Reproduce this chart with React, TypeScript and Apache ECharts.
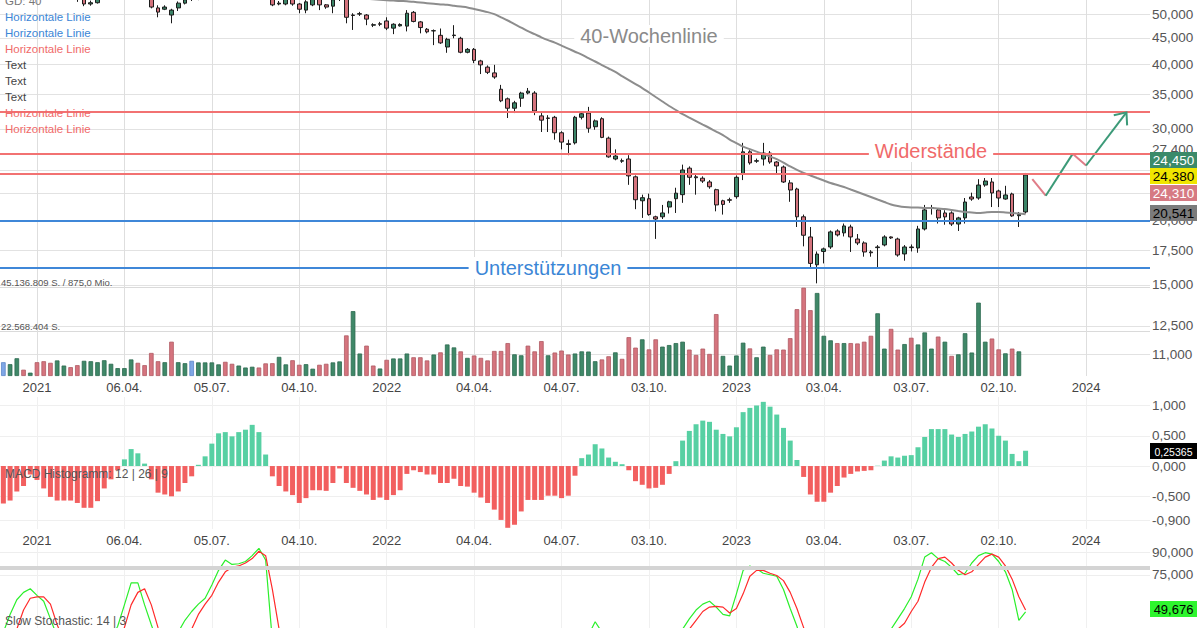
import React, { useEffect, useRef } from 'react';
import * as echarts from 'echarts';

const FONT = '"Liberation Sans", Arial, Helvetica, sans-serif';

// ---------- time axis ----------
const firstWeek = '2020-11-30';
const weekCount = 171;
const tickIndex = [5, 18, 31, 44, 57, 70, 83, 96, 109, 122, 135, 148, 161];
const tickLabels = ['2021', '06.04.', '05.07.', '04.10.', '2022', '04.04.', '04.07.', '03.10.', '2023', '03.04.', '03.07.', '02.10.', '2024'];

// ---------- weekly candles (EUR) ----------
const openPrice = [
  57.0, 56.4, 57.3, 58.2, 57.4, 58.0, 56.8, 55.9, 55.2, 55.9,
  56.3, 55.0, 53.5, 52.3, 52.6, 53.7, 55.1, 56.2, 57.0, 57.8,
  58.6, 57.2, 55.4, 51.4, 51.1, 49.8, 51.4, 52.5, 53.4, 53.8,
  54.2, 55.5, 56.4, 57.3, 56.9, 56.5, 58.6, 59.1, 59.5, 56.4,
  54.4, 52.3, 52.3, 54.0, 52.3, 50.9, 52.1, 54.0, 52.1, 51.8,
  54.0, 54.2, 49.8, 50.0, 49.8, 47.6, 47.9, 48.5, 46.98, 47.45,
  47.4, 50.4, 48.3, 46.75, 46.4, 45.5, 43.2, 45.45, 44.9, 42.2,
  42.75, 40.6, 39.5, 38.5, 35.8, 34.3, 32.9, 34.4, 35.2, 35.2,
  31.8, 31.5, 31.6, 29.5, 28.1, 28.2, 31.6, 32.2, 30.3, 31.4,
  28.8, 26.25, 26.0, 26.25, 24.25, 21.8, 22.0, 20.3, 20.3, 21.2,
  22.0, 22.4, 25.2, 24.25, 24.1, 23.7, 22.9, 21.8, 21.9, 22.2,
  24.6, 27.1, 26.0, 26.25, 26.95, 25.9, 25.33, 23.6, 22.97, 20.3,
  18.56, 16.4, 17.4, 17.75, 19.06, 18.9, 19.4, 18.39, 18.07, 17.36,
  17.7, 17.91, 18.56, 18.39, 17.21, 17.75, 17.67, 19.23, 21.1, 20.93,
  20.65, 20.65, 19.66, 20.2, 22.17, 22.07, 23.38, 23.7, 22.77, 21.97,
  22.47, 20.4, 20.74,
];
const closePrice = [
  56.4, 57.3, 58.2, 57.4, 58.0, 56.8, 55.9, 55.2, 55.9, 56.3,
  55.0, 53.6, 52.3, 52.6, 53.7, 55.1, 56.2, 57.0, 57.8, 58.6,
  57.2, 55.4, 51.6, 50.45, 51.6, 50.9, 52.5, 53.3, 53.8, 54.2,
  55.5, 56.4, 57.3, 56.9, 56.5, 58.6, 59.1, 59.5, 56.4, 54.4,
  52.1, 52.5, 53.5, 52.3, 51.1, 52.8, 53.4, 52.1, 51.6, 53.3,
  54.4, 49.3, 49.7, 50.1, 48.9, 47.7, 47.8, 46.98, 47.8, 47.75,
  50.2, 48.4, 47.1, 46.2, 46.45, 44.0, 44.7, 45.55, 42.2, 42.75,
  40.7, 39.9, 38.6, 37.8, 34.0, 32.9, 33.7, 35.2, 35.5, 32.5,
  31.2, 31.45, 29.5, 28.3, 28.0, 31.6, 32.1, 30.1, 31.1, 28.9,
  26.5, 26.6, 26.05, 24.35, 21.9, 22.1, 20.5, 20.1, 20.65, 21.7,
  22.55, 25.0, 24.2, 24.15, 23.8, 23.2, 21.4, 21.45, 21.85, 24.2,
  27.1, 25.8, 26.05, 26.95, 25.9, 25.45, 23.7, 22.87, 20.3, 18.7,
  16.5, 17.2, 17.6, 18.98, 18.73, 19.49, 18.56, 18.07, 17.36, 17.3,
  17.75, 18.56, 18.48, 17.13, 17.75, 17.7, 19.23, 20.93, 21.15, 20.2,
  20.29, 19.66, 20.2, 21.68, 21.97, 23.38, 23.8, 22.57, 22.07, 22.37,
  20.38, 20.5, 24.45,
];
const lowPrice = [
  55.8, 56.0, 57.0, 56.9, 57.0, 56.2, 55.3, 54.6, 54.8, 55.4,
  54.2, 52.8, 51.8, 51.9, 52.4, 53.4, 54.8, 55.8, 56.6, 57.3,
  56.8, 54.9, 51.3, 49.3, 50.9, 48.0, 50.7, 52.2, 53.0, 53.2,
  53.8, 55.1, 56.0, 56.3, 56.0, 56.2, 58.0, 58.6, 55.6, 53.6,
  51.8, 52.0, 52.0, 51.9, 50.2, 50.2, 51.8, 50.9, 51.2, 50.2,
  53.0, 48.0, 46.6, 49.6, 47.6, 47.2, 47.4, 46.57, 45.74, 47.3,
  46.3, 48.2, 45.9, 45.9, 43.56, 43.8, 42.1, 44.9, 42.0, 42.0,
  40.2, 38.3, 38.3, 37.5, 33.8, 31.5, 32.2, 33.1, 35.0, 31.9,
  29.6, 29.6, 28.6, 27.4, 26.7, 28.0, 31.3, 29.5, 29.9, 28.8,
  26.4, 26.1, 25.8, 23.4, 21.0, 20.2, 20.4, 18.4, 20.1, 20.6,
  20.65, 21.6, 23.4, 22.4, 23.6, 23.0, 20.8, 20.5, 21.6, 22.0,
  23.9, 25.6, 25.8, 25.5, 25.7, 24.45, 23.6, 21.7, 19.4, 17.8,
  16.2, 15.1, 16.5, 17.6, 18.6, 18.6, 17.36, 17.9, 17.0, 17.0,
  16.1, 17.8, 18.4, 17.0, 16.7, 17.4, 17.3, 19.1, 20.5, 19.7,
  19.6, 19.49, 19.06, 19.7, 21.8, 21.9, 23.2, 21.2, 21.2, 21.9,
  20.3, 19.4, 20.6,
];
const highPrice = [
  58.0, 57.8, 58.8, 58.6, 58.7, 58.3, 57.2, 56.4, 56.3, 56.9,
  56.6, 55.4, 54.2, 53.1, 54.0, 55.5, 56.6, 57.5, 58.4, 59.2,
  58.9, 57.5, 55.7, 52.0, 52.0, 51.2, 52.9, 53.9, 54.3, 54.8,
  55.9, 56.9, 57.8, 57.9, 57.5, 59.1, 59.8, 60.2, 59.8, 56.7,
  54.8, 53.0, 53.9, 54.3, 52.5, 53.2, 53.8, 54.3, 52.3, 53.7,
  55.4, 54.6, 50.2, 50.5, 50.0, 48.0, 48.3, 49.3, 48.0, 48.0,
  50.9, 50.7, 48.5, 47.0, 46.7, 46.9, 45.0, 47.6, 45.2, 43.0,
  43.0, 40.8, 39.8, 39.9, 36.5, 34.5, 34.0, 35.4, 36.0, 35.5,
  32.2, 31.9, 31.8, 29.7, 28.6, 31.8, 32.4, 33.1, 31.3, 31.6,
  29.0, 27.4, 26.3, 26.7, 24.4, 22.4, 22.5, 20.4, 21.4, 21.8,
  23.1, 25.6, 25.4, 24.5, 24.3, 23.9, 23.0, 21.9, 22.1, 24.4,
  28.2, 27.3, 26.3, 28.2, 27.2, 26.0, 25.5, 23.9, 23.1, 20.5,
  19.4, 17.4, 17.7, 19.1, 19.2, 19.7, 19.6, 18.8, 18.2, 17.5,
  17.9, 18.7, 18.6, 18.5, 17.9, 17.95, 19.5, 21.4, 21.4, 21.1,
  20.9, 20.8, 20.3, 22.07, 22.6, 24.0, 24.12, 24.12, 22.9, 23.3,
  22.6, 20.74, 24.67,
];

// 40-week moving average (GD 40)
const ma40 = [
  55.2, 55.3, 55.4, 55.5, 55.6, 55.7, 55.8, 55.8, 55.9, 55.9,
  56.0, 56.0, 56.0, 56.0, 55.9, 55.9, 55.9, 55.9, 55.9, 56.0,
  56.0, 56.0, 55.9, 55.8, 55.7, 55.6, 55.5, 55.4, 55.3, 55.2,
  55.2, 55.1, 55.1, 55.0, 55.0, 55.0, 55.0, 55.0, 54.95, 54.9,
  54.85, 54.8, 54.7, 54.6, 54.5, 54.4, 54.3, 54.2, 54.1, 54.0,
  53.9, 53.8, 53.7, 53.6, 53.5, 53.4, 53.3, 53.2, 53.1, 53.0,
  52.95, 52.8, 52.65, 52.5, 52.35, 52.2, 52.1, 51.9, 51.7, 51.5,
  51.15, 50.8, 50.45, 50.0, 49.3, 48.6, 47.8, 47.1, 46.36, 45.74,
  45.1, 44.54, 44.05, 43.47, 42.9, 42.3, 41.77, 41.1, 40.5, 39.86,
  39.26, 38.66, 37.96, 37.29, 36.63, 35.99, 35.28, 34.58, 33.9, 33.23,
  32.64, 32.06, 31.56, 31.08, 30.6, 30.13, 29.66, 29.2, 28.62, 28.18,
  27.73, 27.43, 27.13, 26.83, 26.53, 26.24, 25.84, 25.39, 25.0, 24.67,
  24.39, 24.12, 23.86, 23.59, 23.38, 23.18, 22.92, 22.67, 22.42, 22.17,
  21.92, 21.68, 21.44, 21.3, 21.2, 21.16, 21.16, 21.11, 21.11, 21.06,
  21.02, 20.93, 20.83, 20.74, 20.7, 20.65, 20.7, 20.74, 20.74, 20.7,
  20.65, 20.6, 20.541,
];

// weekly volume in million shares (no figure yet for the last week), and its colour (g up, r down, b marked)
const volumeMio = [
  7.0, 6.0, 9.0, 3.2, 1.7, 7.0, 7.5, 6.7, 7.9, 5.3,
  4.5, 5.5, 7.7, 7.5, 7.0, 8.0, 6.2, 4.0, 4.0, 8.4,
  6.7, 5.5, 11.7, 7.5, 7.0, 17.4, 7.0, 6.5, 7.7, 6.9,
  6.9, 6.9, 5.9, 7.2, 6.2, 5.3, 4.3, 4.7, 4.3, 6.4,
  6.5, 9.7, 5.9, 8.0, 5.7, 6.0, 3.7, 5.7, 6.2, 6.9,
  7.4, 20.6, 32.9, 11.4, 15.4, 5.3, 3.8, 8.2, 8.9, 8.9,
  11.4, 9.5, 9.5, 7.9, 10.9, 12.0, 16.0, 14.5, 12.5, 9.2,
  10.4, 9.2, 7.9, 12.7, 12.7, 16.7, 11.0, 10.5, 15.4, 12.5,
  17.7, 10.5, 11.9, 12.9, 10.9, 11.4, 12.5, 12.4, 7.5, 8.4,
  10.0, 12.0, 8.7, 19.7, 14.4, 18.6, 13.5, 18.6, 14.9, 15.7,
  16.7, 17.4, 13.4, 10.7, 13.9, 11.2, 31.4, 10.2, 5.3, 10.4,
  16.9, 14.0, 9.5, 14.9, 10.7, 13.5, 13.4, 19.2, 33.9, 44.8,
  33.4, 42.1, 20.4, 18.1, 16.7, 16.7, 16.7, 16.5, 17.4, 20.4,
  31.8, 13.9, 23.9, 13.4, 16.2, 19.4, 16.0, 22.1, 13.9, 20.0,
  17.4, 10.2, 11.0, 21.7, 11.9, 37.2, 17.4, 19.0, 13.5, 11.5,
  13.9, 12.5, null,
];
const volumeTrend = [
  'b', 'g', 'g', 'r', 'g', 'r', 'r', 'r', 'g', 'g',
  'r', 'r', 'g', 'g', 'g', 'g', 'g', 'g', 'g', 'g',
  'r', 'r', 'r', 'r', 'g', 'r', 'g', 'g', 'b', 'g',
  'g', 'g', 'g', 'r', 'r', 'g', 'g', 'g', 'r', 'r',
  'r', 'g', 'g', 'r', 'r', 'g', 'g', 'r', 'r', 'g',
  'g', 'r', 'g', 'g', 'r', 'r', 'g', 'r', 'g', 'g',
  'g', 'r', 'r', 'r', 'g', 'r', 'g', 'g', 'r', 'g',
  'r', 'r', 'r', 'r', 'r', 'r', 'g', 'g', 'r', 'r',
  'r', 'g', 'r', 'r', 'r', 'g', 'g', 'g', 'g', 'r',
  'r', 'g', 'r', 'r', 'r', 'g', 'r', 'r', 'g', 'g',
  'g', 'g', 'r', 'r', 'r', 'r', 'r', 'g', 'g', 'g',
  'g', 'r', 'g', 'g', 'r', 'r', 'r', 'r', 'r', 'r',
  'r', 'g', 'g', 'g', 'r', 'g', 'r', 'r', 'r', 'r',
  'g', 'g', 'r', 'r', 'g', 'r', 'g', 'g', 'g', 'r',
  'g', 'r', 'g', 'g', 'g', 'g', 'g', 'r', 'r', 'g',
  'r', 'g', 'g',
];

// MACD histogram 12 | 26 | 9
const macdHist = [
  -0.62, -0.57, -0.42, -0.33, -0.14, -0.23, -0.37, -0.51, -0.57, -0.57,
  -0.57, -0.61, -0.69, -0.69, -0.58, -0.37, -0.22, -0.07, 0.11, 0.28,
  0.21, 0.04, -0.22, -0.44, -0.47, -0.5, -0.42, -0.28, -0.17, 0.02,
  0.16, 0.37, 0.54, 0.56, 0.49, 0.56, 0.6, 0.68, 0.56, 0.19,
  -0.17, -0.33, -0.42, -0.48, -0.61, -0.53, -0.4, -0.4, -0.41, -0.28,
  -0.04, -0.28, -0.36, -0.41, -0.47, -0.56, -0.52, -0.56, -0.48, -0.4,
  -0.13, -0.07, -0.1, -0.14, -0.14, -0.28, -0.28, -0.21, -0.33, -0.34,
  -0.44, -0.52, -0.61, -0.72, -0.89, -1.02, -0.97, -0.75, -0.56, -0.56,
  -0.56, -0.49, -0.49, -0.53, -0.49, -0.16, 0.13, 0.19, 0.36, 0.29,
  0.14, 0.07, 0.03, -0.07, -0.25, -0.31, -0.37, -0.36, -0.31, -0.13,
  0.08, 0.42, 0.58, 0.69, 0.75, 0.73, 0.6, 0.53, 0.49, 0.64,
  0.89, 0.96, 1.0, 1.06, 0.98, 0.85, 0.63, 0.42, 0.1, -0.18,
  -0.47, -0.59, -0.59, -0.44, -0.33, -0.19, -0.13, -0.09, -0.08, -0.07,
  0.005, 0.09, 0.16, 0.14, 0.17, 0.18, 0.31, 0.48, 0.61, 0.61,
  0.61, 0.52, 0.48, 0.53, 0.57, 0.65, 0.69, 0.62, 0.5, 0.42,
  0.2, 0.08, 0.25365,
];

// Slow Stochastic 14 | 3
const stochK = [
  36, 48, 58, 63, 65.5, 61, 57, 45, 33, 22,
  15, 11, 8, 12, 18, 24, 31, 40, 54.5, 69.5,
  69.5, 54.5, 41, 28, 22, 18, 36, 44, 50, 55,
  59, 68, 78, 85, 82, 82.5, 84, 88, 93, 85,
  30, 18, 16, 12, 9, 14, 20, 17, 13, 18,
  24, 15, 8, 6, 5, 4, 5, 6, 8, 10,
  16, 15, 12, 9, 7, 5, 6, 8, 6, 5,
  4, 3, 3, 4, 3, 2, 5, 12, 16, 12,
  8, 7, 6, 5, 5, 20, 30, 34, 43, 36,
  24, 15, 10, 6, 3, 4, 3, 4, 8, 14,
  24, 38, 45, 51, 55, 57, 53, 48, 47, 62,
  78, 81, 79, 76, 75, 74, 65, 52, 40, 25,
  10, 8, 9, 14, 18, 22, 18, 15, 12, 14,
  16, 22, 38, 45, 52, 60, 72, 87, 90, 86,
  84, 80, 75, 76, 83, 88, 90, 89, 84, 77,
  65, 44, 49.676,
];
const stochD = [
  28, 33, 38, 51, 59, 60, 60, 55, 41, 30,
  22, 16, 11, 10, 13, 18, 24, 32, 39, 54.5,
  63, 65.5, 54.5, 39, 28, 22, 25, 33, 38, 48,
  55, 61, 70, 77, 80, 81, 83, 86, 91, 88,
  65, 38, 21, 15, 12, 12, 14, 17, 17, 16,
  18, 19, 16, 10, 6, 5, 5, 5, 6, 8,
  11, 14, 14, 12, 9, 7, 6, 6, 7, 6,
  5, 4, 3, 3, 3, 3, 3, 6, 11, 13,
  12, 9, 7, 6, 5, 10, 18, 28, 36, 38,
  34, 25, 16, 10, 6, 4, 3, 4, 5, 9,
  15, 25, 38, 44, 50, 53, 53.5, 53, 49, 52,
  62, 74, 78, 78, 76, 74.5, 71, 63, 52, 39,
  25, 14, 9, 10, 14, 18, 19, 18, 15, 14,
  14, 17, 25, 38, 42, 50, 57, 70, 80, 86,
  87, 83, 78, 75, 77, 82, 87, 89, 87, 81,
  72, 60, 51,
];

// drawn horizontal levels and the projected path
const resistanceLevels = [32.37, 27.03, 24.38];
const supportLevels = [19.9, 16.2];
const projIndex = [153, 155, 159, 161, 167];
const projValue = [24.0, 22.3, 26.86, 25.5, 32.3];

// axis ticks
const priceLabelTicks = [50, 45, 40, 35, 30, 27.4, 20, 17.5, 15, 12.5, 11];
const priceGridTicks = [50, 45, 40, 35, 30, 25, 22.5, 20, 17.5, 15, 12.5, 11];
const volumeTicks = [22.568404, 45.136809];
const volumeTickLabels = ['22.568.404 S.', '45.136.809 S. / 875,0 Mio.'];
const macdTicks = [1, 0.5, 0, -0.5, -0.9];
const stochTicks = [90, 75];

const RED_LINE = '#f27272';
const BLUE_LINE = '#3f87d8';
const UP = '#3b8467';
const DOWN = '#d4737d';

const lg = (v: number) => Math.log10(v);
const de = (v: number, d: number) => v.toFixed(d).replace('.', ',');

function weekLabels(): string[] {
  const start = new Date(firstWeek + 'T00:00:00Z').getTime();
  const out: string[] = [];
  for (let i = 0; i < weekCount; i++) {
    const d = new Date(start + i * 7 * 86400000);
    const p = (n: number) => String(n).padStart(2, '0');
    out.push(`${p(d.getUTCDate())}.${p(d.getUTCMonth() + 1)}.${d.getUTCFullYear()}`);
  }
  return out;
}

export default function App() {
  const ref = useRef<HTMLDivElement>(null);

  useEffect(() => {
    const el = ref.current;
    if (!el) return;
    const chart = echarts.init(el, null, { renderer: 'svg' });
    const cats = weekLabels();

    const gridBase = { left: 0, width: 1150, containLabel: false, outerBoundsMode: 'none' } as any;
    const hiddenCat = (gridIndex: number) => ({
      type: 'category', gridIndex, data: cats, boundaryGap: true, show: false,
      axisLine: { show: false, onZero: false },
    });
    const timeAxis = (gridIndex: number, showLabels: boolean, gridColor: string) => ({
      type: 'value', gridIndex, min: -0.5, max: weekCount - 0.5, position: 'bottom',
      axisLine: { show: false, onZero: false },
      axisTick: { show: false, customValues: tickIndex },
      axisLabel: {
        show: showLabels, customValues: tickIndex, margin: 5, fontSize: 13, color: '#444', fontFamily: FONT,
        formatter: (v: number) => tickLabels[tickIndex.indexOf(Math.round(v))] ?? '',
      },
      splitLine: { show: true, lineStyle: { color: gridColor, width: 1 } },
    });

    const candleData = openPrice.map((o, i) => [lg(o), lg(closePrice[i]), lg(lowPrice[i]), lg(highPrice[i])]);

    const levelLines = [
      ...resistanceLevels.map((v) => ({ yAxis: lg(v), lineStyle: { color: RED_LINE, width: 2.2, type: 'solid' } })),
      ...supportLevels.map((v) => ({ yAxis: lg(v), lineStyle: { color: BLUE_LINE, width: 2, type: 'solid' } })),
    ];

    const projSegment = (a: number, color: string) => ({
      type: 'line', xAxisIndex: 0, yAxisIndex: 0, z: 4, symbol: 'none', silent: true,
      data: [[projIndex[a], lg(projValue[a])], [projIndex[a + 1], lg(projValue[a + 1])]],
      lineStyle: { color, width: 2 },
    });

    const option: any = {
      animation: false,
      textStyle: { fontFamily: FONT },
      grid: [
        { ...gridBase, top: 0, height: 376 },
        { ...gridBase, top: 287, height: 89 },
        { ...gridBase, top: 397, height: 132 },
        { ...gridBase, top: 538, height: 147 },
      ],
      xAxis: [
        hiddenCat(0), hiddenCat(1), hiddenCat(2), hiddenCat(3),
        timeAxis(0, true, '#dedede'),
        timeAxis(2, true, '#f0f0f0'),
        timeAxis(3, false, '#f0f0f0'),
      ],
      yAxis: [
        {
          type: 'value', gridIndex: 0, position: 'right', min: lg(10), max: lg(53.24),
          axisLine: { show: false, onZero: false },
          axisTick: { show: false, customValues: priceGridTicks.map(lg) },
          axisLabel: {
            customValues: priceLabelTicks.map(lg), margin: 2, fontSize: 13.5, color: '#555', fontFamily: FONT,
            formatter: (v: number) => de(Math.pow(10, v), 3),
          },
          splitLine: { show: true, lineStyle: { color: '#e2e2e2' } },
        },
        {
          type: 'value', gridIndex: 1, position: 'left', min: 0, max: volumeTicks[1],
          axisLine: { show: false, onZero: false },
          axisTick: { show: false, customValues: volumeTicks },
          axisLabel: {
            inside: true, customValues: volumeTicks, margin: 1, fontSize: 9.5, color: '#555',
            verticalAlign: 'bottom', fontFamily: FONT,
            formatter: (v: number) => volumeTickLabels[v > 30 ? 1 : 0],
          },
          splitLine: { show: true, lineStyle: { color: '#dadada' } },
        },
        {
          type: 'value', gridIndex: 2, position: 'right', min: -1.04, max: 1.14,
          axisLine: { show: false, onZero: false },
          axisTick: { show: false, customValues: macdTicks },
          axisLabel: {
            customValues: macdTicks, margin: 2, fontSize: 13.5, color: '#555', fontFamily: FONT,
            formatter: (v: number) => de(v, 3),
          },
          splitLine: { show: true, lineStyle: { color: '#efefef' } },
        },
        {
          type: 'value', gridIndex: 3, position: 'right', min: 0, max: 100,
          axisLine: { show: false, onZero: false },
          axisTick: { show: false, customValues: stochTicks },
          axisLabel: {
            customValues: stochTicks, margin: 2, fontSize: 13.5, color: '#555', fontFamily: FONT,
            formatter: (v: number) => de(v, 3),
          },
          splitLine: { show: true, lineStyle: { color: '#eeeeee' } },
        },
      ],
      series: [
        {
          type: 'candlestick', name: 'Kurs', xAxisIndex: 0, yAxisIndex: 0, z: 2,
          data: candleData, barWidth: 4.2, clip: true,
          itemStyle: { color: UP, color0: DOWN, borderColor: '#1b1b1b', borderColor0: '#1b1b1b', borderWidth: 1 },
          markLine: { silent: true, symbol: ['none', 'none'], label: { show: false }, data: levelLines },
        },
        {
          type: 'line', name: 'GD 40', xAxisIndex: 0, yAxisIndex: 0, z: 3, symbol: 'none', smooth: 0.3,
          data: ma40.map(lg), lineStyle: { color: '#8d8d8d', width: 2 }, clip: true,
        },
        projSegment(0, '#e07d88'),
        projSegment(1, '#3c9a78'),
        projSegment(2, '#e07d88'),
        projSegment(3, '#3c9a78'),
        {
          type: 'bar', name: 'Volumen', xAxisIndex: 1, yAxisIndex: 1, barWidth: 4.6,
          data: volumeMio.map((v, i) => {
            if (v == null) return '-';
            const t = volumeTrend[i];
            const fill = t === 'g' ? '#3f8868' : t === 'r' ? '#d5747e' : '#7fa7e6';
            const stroke = t === 'g' ? '#2c6a4f' : t === 'r' ? '#b05a63' : '#5d86c8';
            return { value: v, itemStyle: { color: fill, borderColor: stroke, borderWidth: 0.8 } };
          }),
        },
        {
          type: 'bar', name: 'MACD', xAxisIndex: 2, yAxisIndex: 2, barWidth: 5,
          data: macdHist.map((v) => ({ value: v, itemStyle: { color: v >= 0 ? '#57d0a3' : '#f25f5f' } })),
        },
        {
          type: 'line', xAxisIndex: 3, yAxisIndex: 3, data: [], silent: true,
          markLine: { silent: true, symbol: ['none', 'none'], label: { show: false },
            lineStyle: { color: '#d4d4d4', width: 4, type: 'solid' }, data: [{ yAxis: 80 }] },
        },
        {
          type: 'line', name: '%K', xAxisIndex: 3, yAxisIndex: 3, symbol: 'none',
          data: stochK, lineStyle: { color: '#2bef2b', width: 1.2 },
        },
        {
          type: 'line', name: '%D', xAxisIndex: 3, yAxisIndex: 3, symbol: 'none',
          data: stochD, lineStyle: { color: '#ff2a2a', width: 1.2 },
        },
      ],
    };

    chart.setOption(option);

    // ---------- annotations ----------
    const legendTexts = ['GD: 40', 'Horizontale Linie', 'Horizontale Linie', 'Horizontale Linie', 'Text', 'Text', 'Text', 'Horizontale Linie', 'Horizontale Linie'];
    const legendColors = ['#777', '#3b86d6', '#3b86d6', '#f06a6a', '#444', '#444', '#444', '#f06a6a', '#f06a6a'];
    const graphics: any[] = legendTexts.map((t, i) => ({
      type: 'text', id: 'lg' + i, x: 5, y: 1 + i * 16, z: 100, silent: true,
      style: { text: t, fill: legendColors[i], font: `11.5px ${FONT}`, verticalAlign: 'middle' },
    }));

    const bigText = (id: string, text: string, x: number, y: number, color: string) => ({
      type: 'text', id, x, y, z: 100, silent: true,
      style: {
        text, fill: color, font: `20px ${FONT}`, align: 'center', verticalAlign: 'middle',
        backgroundColor: '#ffffff', padding: [1, 6],
      },
    });
    graphics.push(bigText('t40', '40-Wochenlinie', 649, 36, '#8a8a8a'));
    graphics.push(bigText('tres', 'Widerstände', 931, 151, '#f06a6a'));
    graphics.push(bigText('tsup', 'Unterstützungen', 548, 268, '#3b86d6'));

    const box = (id: string, text: string, y: number, fill: string, color: string, size: number) => ([
      { type: 'rect', id: id + 'r', z: 100, silent: true, shape: { x: 1150, y, width: 47, height: 16 }, style: { fill } },
      {
        type: 'text', id: id + 't', z: 101, silent: true, x: 1173.5, y: y + 8.5,
        style: { text, fill: color, font: `${size}px ${FONT}`, align: 'center', verticalAlign: 'middle' },
      },
    ]);
    graphics.push(...box('b1', de(closePrice[closePrice.length - 1], 3), 152, '#3b8a6a', '#ffffff', 13.5));
    graphics.push(...box('b2', de(resistanceLevels[2], 3), 168, '#f0e600', '#000000', 13.5));
    graphics.push(...box('b3', '24,310', 185, '#d67a83', '#ffffff', 13.5));
    graphics.push(...box('b4', de(ma40[ma40.length - 1], 3), 205, '#7b7b7b', '#000000', 13.5));
    graphics.push(...box('b5', de(macdHist[macdHist.length - 1], 5), 443, '#000000', '#ffffff', 10.5));
    graphics.push(...box('b6', de(stochK[stochK.length - 1], 3), 601, '#2ef52e', '#000000', 13));

    graphics.push({
      type: 'text', id: 'macdLbl', x: 5, y: 474, z: 100, silent: true,
      style: { text: 'MACD Histogramm: 12 | 26 | 9', fill: '#555', font: `12px ${FONT}`, verticalAlign: 'middle' },
    });
    graphics.push({
      type: 'text', id: 'stoLbl', x: 5, y: 621, z: 100, silent: true,
      style: { text: 'Slow Stochastic: 14 | 3', fill: '#555', font: `12px ${FONT}`, verticalAlign: 'middle' },
    });

    // open arrow head at the end of the projected path
    const n = projIndex.length;
    const tip = chart.convertToPixel({ xAxisIndex: 0, yAxisIndex: 0 } as any, [projIndex[n - 1], lg(projValue[n - 1])]) as number[];
    const prev = chart.convertToPixel({ xAxisIndex: 0, yAxisIndex: 0 } as any, [projIndex[n - 2], lg(projValue[n - 2])]) as number[];
    if (tip && prev) {
      const dx = prev[0] - tip[0];
      const dy = prev[1] - tip[1];
      const len = Math.hypot(dx, dy) || 1;
      const ux = dx / len, uy = dy / len;
      const arm = (ang: number) => {
        const c = Math.cos(ang), s = Math.sin(ang);
        return [tip[0] + 13 * (ux * c - uy * s), tip[1] + 13 * (ux * s + uy * c)];
      };
      graphics.push({
        type: 'polyline', id: 'arrow', z: 100, silent: true,
        shape: { points: [arm(0.7), tip, arm(-0.7)] },
        style: { stroke: '#3c9a78', lineWidth: 2, fill: null },
      });
    }

    chart.setOption({ graphic: graphics });

    return () => chart.dispose();
  }, []);

  return <div ref={ref} style={{ position: 'absolute', left: 0, top: 0, width: 1200, height: 628 }} />;
}
